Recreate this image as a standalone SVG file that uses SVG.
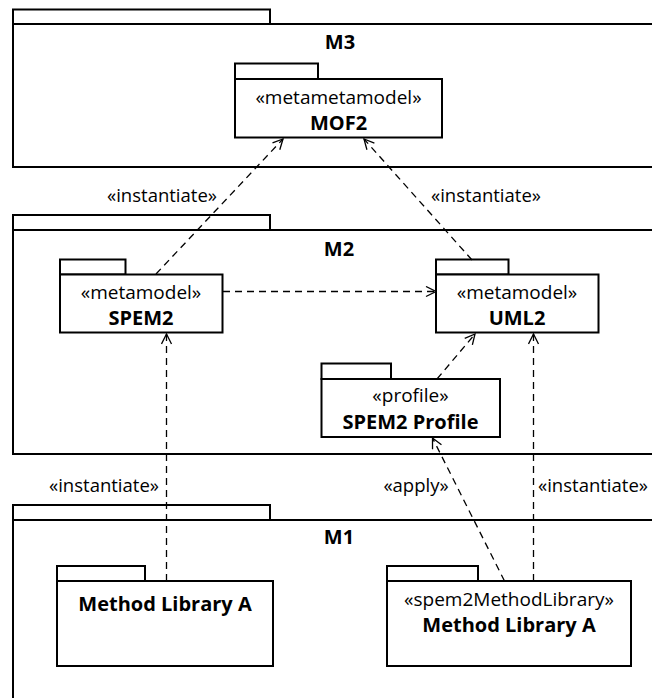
<svg xmlns="http://www.w3.org/2000/svg" width="652" height="698" viewBox="0 0 652 698">
<defs>
<style>
.frame{fill:#fff;stroke:#000;stroke-width:2}
.pkg{fill:#fff;stroke:#000;stroke-width:2}
.dep{fill:none;stroke:#000;stroke-width:1.3;stroke-dasharray:7 5}
text{font-family:"Open Sans","Liberation Sans",sans-serif;fill:#000;text-anchor:middle}
.st{font-size:19px}
.nm{font-size:20px;font-weight:bold}
.lb{font-size:18.5px}
</style>
<marker id="open" viewBox="0 0 12 12" refX="11" refY="6" markerWidth="12" markerHeight="12" markerUnits="userSpaceOnUse" orient="auto">
<path d="M1,1 L11,6 L1,11" fill="none" stroke="#000" stroke-width="1.3"/>
</marker>
</defs>
<rect width="652" height="698" fill="#fff"/>
<g id="M3">
<rect class="frame" x="13" y="9.5" width="257" height="14.5"/>
<rect class="frame" x="13" y="24" width="650" height="143"/>
<text class="nm" x="340" y="49">M3</text>
</g>
<g id="M2">
<rect class="frame" x="13" y="215" width="257" height="15"/>
<rect class="frame" x="13" y="230" width="650" height="224"/>
<text class="nm" x="339" y="256">M2</text>
</g>
<g id="M1">
<rect class="frame" x="13" y="505" width="257" height="15"/>
<rect class="frame" x="13" y="520" width="650" height="190"/>
<text class="nm" x="339" y="544">M1</text>
</g>
<g id="MOF2">
<rect class="pkg" x="235" y="63.5" width="83" height="15.5"/>
<rect class="pkg" x="235" y="79" width="207" height="58.5"/>
<text class="st" x="338.5" y="104">«metametamodel»</text>
<text class="nm" x="338.5" y="129.5">MOF2</text>
</g>
<g id="SPEM2">
<rect class="pkg" x="60" y="259.5" width="65.5" height="15"/>
<rect class="pkg" x="60" y="274.5" width="162.5" height="58"/>
<text class="st" x="141" y="299">«metamodel»</text>
<text class="nm" x="141" y="324.5">SPEM2</text>
</g>
<g id="UML2">
<rect class="pkg" x="436" y="259.5" width="72.5" height="15"/>
<rect class="pkg" x="436" y="274.5" width="162.5" height="58"/>
<text class="st" x="517" y="299">«metamodel»</text>
<text class="nm" x="517" y="324.5">UML2</text>
</g>
<g id="SPEM2Profile">
<rect class="pkg" x="321.5" y="363.5" width="69.5" height="15.5"/>
<rect class="pkg" x="321.5" y="379" width="178.5" height="58"/>
<text class="st" x="410.5" y="402">«profile»</text>
<text class="nm" x="410.5" y="429">SPEM2 Profile</text>
</g>
<g id="MethodLibraryA1">
<rect class="pkg" x="57" y="566" width="88" height="15"/>
<rect class="pkg" x="57" y="581" width="216" height="85"/>
<text class="nm" x="165" y="611">Method Library A</text>
</g>
<g id="MethodLibraryA2">
<rect class="pkg" x="387" y="566" width="91" height="15"/>
<rect class="pkg" x="387" y="581" width="244" height="85"/>
<text class="st" x="509" y="606">«spem2MethodLibrary»</text>
<text class="nm" x="509" y="632">Method Library A</text>
</g>
<g id="connectors">
<line class="dep" x1="156" y1="274" x2="283" y2="139" marker-end="url(#open)"/>
<line class="dep" x1="472" y1="260" x2="364" y2="139" marker-end="url(#open)"/>
<line class="dep" x1="223" y1="291.5" x2="436" y2="291.5" marker-end="url(#open)"/>
<line class="dep" x1="437" y1="379" x2="475" y2="334" marker-end="url(#open)"/>
<line class="dep" x1="166.5" y1="581" x2="166.5" y2="334" marker-end="url(#open)"/>
<line class="dep" x1="533.5" y1="581" x2="533.5" y2="334" marker-end="url(#open)"/>
<line class="dep" x1="504.5" y1="581" x2="432.5" y2="438" marker-end="url(#open)"/>
<text class="lb" x="162" y="202">«instantiate»</text>
<text class="lb" x="486" y="202">«instantiate»</text>
<text class="lb" x="104" y="492">«instantiate»</text>
<text class="lb" x="416" y="492">«apply»</text>
<text class="lb" x="593" y="492">«instantiate»</text>
</g>
</svg>
